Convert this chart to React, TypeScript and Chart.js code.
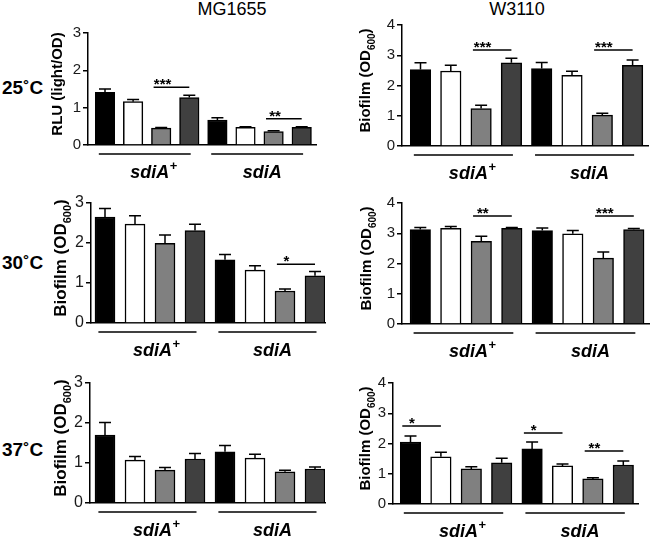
import React, { useEffect, useRef } from 'react';
import { Chart, registerables } from 'chart.js';

Chart.register(...registerables);

const FONT = "'Liberation Sans', Arial, Helvetica, sans-serif";

// ---------- labels ----------
const strains = ['MG1655', 'W3110'];
const temperatures = ['25˚C', '30˚C', '37˚C'];
const groupNames = ['sdiA', 'sdiA'];
const groupSups = ['+', ''];
const barColors = ['#000000', '#ffffff', '#808080', '#404040'];

type Sig = [number, number, number, string]; // from bar, to bar, y value, label

// ---------- data ----------
// MG1655, 25˚C (RLU)
const mg25Values = [1.41, 1.16, 0.45, 1.27, 0.67, 0.47, 0.36, 0.47];
const mg25Errors = [0.09, 0.06, 0.02, 0.06, 0.06, 0.02, 0.02, 0.02];
const mg25Sig: Sig[] = [[2, 3, 1.55, '***'], [6, 7, 0.7, '**']];

// W3110, 25˚C
const w25Values = [2.53, 2.48, 1.24, 2.75, 2.56, 2.34, 1.02, 2.67];
const w25Errors = [0.22, 0.19, 0.11, 0.15, 0.2, 0.13, 0.06, 0.17];
const w25Sig: Sig[] = [[2, 3, 3.17, '***'], [6, 7, 3.17, '***']];

// MG1655, 30˚C
const mg30Values = [2.65, 2.47, 1.99, 2.31, 1.58, 1.32, 0.8, 1.18];
const mg30Errors = [0.21, 0.21, 0.21, 0.16, 0.13, 0.11, 0.05, 0.11];
const mg30Sig: Sig[] = [[6, 7, 1.47, '*']];

// W3110, 30˚C
const w30Values = [3.12, 3.16, 2.73, 3.16, 3.09, 2.98, 2.18, 3.12];
const w30Errors = [0.07, 0.06, 0.17, 0.03, 0.08, 0.11, 0.2, 0.04];
const w30Sig: Sig[] = [[2, 3, 3.57, '**'], [6, 7, 3.57, '***']];

// MG1655, 37˚C
const mg37Values = [1.7, 1.07, 0.82, 1.1, 1.28, 1.12, 0.78, 0.85];
const mg37Errors = [0.31, 0.09, 0.07, 0.14, 0.16, 0.1, 0.04, 0.05];
const mg37Sig: Sig[] = [];

// W3110, 37˚C
const w37Values = [2.05, 1.56, 1.16, 1.36, 1.82, 1.26, 0.83, 1.29];
const w37Errors = [0.2, 0.15, 0.07, 0.15, 0.23, 0.06, 0.04, 0.13];
const w37Sig: Sig[] = [[0, 1, 2.58, '*'], [4, 5, 2.35, '*'], [6, 7, 1.75, '**']];

const rluTitle = [{ t: 'RLU (light/OD)', sub: false }];
const biofilmTitle = [
  { t: 'Biofilm (OD', sub: false },
  { t: '600', sub: true },
  { t: ')', sub: false },
];

// ---------- layout (page pixels) ----------
type Layout = {
  left: number; top: number; width: number; height: number;
  axisX: number; axisRight: number; yTopPx: number; y0Px: number;
  c0: number; step: number; bar: number; titleX: number; titleSize: number; tickSize: number;
};

const L_MG25: Layout = { left: 40, top: 10, width: 290, height: 172, axisX: 88, axisRight: 316, yTopPx: 33, y0Px: 145, c0: 105, step: 28.1, bar: 19.5, titleX: 57, titleSize: 15, tickSize: 15 };
const L_W25: Layout = { left: 340, top: 10, width: 310, height: 172, axisX: 402, axisRight: 648, yTopPx: 25, y0Px: 146, c0: 420.5, step: 30.3, bar: 20.5, titleX: 365, titleSize: 15, tickSize: 15 };
const L_MG30: Layout = { left: 40, top: 185, width: 290, height: 177, axisX: 91, axisRight: 325, yTopPx: 203, y0Px: 323, c0: 105, step: 30, bar: 20, titleX: 60, titleSize: 17, tickSize: 16 };
const L_W30: Layout = { left: 340, top: 185, width: 310, height: 177, axisX: 402, axisRight: 649, yTopPx: 203, y0Px: 324, c0: 420.3, step: 30.5, bar: 20.5, titleX: 366, titleSize: 15, tickSize: 15 };
const L_MG37: Layout = { left: 40, top: 364, width: 290, height: 175, axisX: 90, axisRight: 325, yTopPx: 383, y0Px: 503, c0: 105, step: 30, bar: 20, titleX: 60, titleSize: 17, tickSize: 16 };
const L_W37: Layout = { left: 340, top: 364, width: 310, height: 175, axisX: 393, axisRight: 638, yTopPx: 383, y0Px: 504, c0: 410.5, step: 30.4, bar: 20.5, titleX: 365, titleSize: 15, tickSize: 15 };

type Spec = {
  layout: Layout; values: number[]; errors: number[]; sig: Sig[];
  yMax: number; title: { t: string; sub: boolean }[];
};

const panels: Spec[] = [
  { layout: L_MG25, values: mg25Values, errors: mg25Errors, sig: mg25Sig, yMax: 3, title: rluTitle },
  { layout: L_W25, values: w25Values, errors: w25Errors, sig: w25Sig, yMax: 4, title: biofilmTitle },
  { layout: L_MG30, values: mg30Values, errors: mg30Errors, sig: mg30Sig, yMax: 3, title: biofilmTitle },
  { layout: L_W30, values: w30Values, errors: w30Errors, sig: w30Sig, yMax: 4, title: biofilmTitle },
  { layout: L_MG37, values: mg37Values, errors: mg37Errors, sig: mg37Sig, yMax: 3, title: biofilmTitle },
  { layout: L_W37, values: w37Values, errors: w37Errors, sig: w37Sig, yMax: 4, title: biofilmTitle },
];

function Panel({ spec }: { spec: Spec }) {
  const ref = useRef<HTMLCanvasElement>(null);
  const L = spec.layout;

  useEffect(() => {
    if (!ref.current) return;
    const yw = 30;
    const xmin = (L.axisX - L.c0) / L.step;
    const xmax = (L.axisRight - L.c0) / L.step;

    const decor = {
      id: 'panelDecor',
      afterDatasetsDraw(chart: any) {
        const { ctx } = chart;
        const xs = chart.scales.x;
        const ys = chart.scales.y;
        ctx.save();
        ctx.strokeStyle = '#000';
        ctx.lineWidth = 1.5;
        spec.values.forEach((v, i) => {
          const px = xs.getPixelForValue(i);
          const y1 = ys.getPixelForValue(v);
          const y2 = ys.getPixelForValue(v + spec.errors[i]);
          ctx.beginPath();
          ctx.moveTo(px, y1);
          ctx.lineTo(px, y2);
          ctx.moveTo(px - 6, y2);
          ctx.lineTo(px + 6, y2);
          ctx.stroke();
        });
        ctx.restore();
      },
      afterDraw(chart: any) {
        const { ctx, chartArea } = chart;
        const xs = chart.scales.x;
        const ys = chart.scales.y;
        ctx.save();
        ctx.fillStyle = '#000';
        ctx.strokeStyle = '#000';

        // y-axis title (rotated, with subscript)
        const size = L.titleSize;
        const subSize = Math.round(size * 0.65);
        let total = 0;
        spec.title.forEach((p) => {
          ctx.font = `bold ${p.sub ? subSize : size}px ${FONT}`;
          total += ctx.measureText(p.t).width;
        });
        const cx = L.titleX - L.left;
        const cy = (chartArea.top + chartArea.bottom) / 2 - 5;
        ctx.translate(cx, cy);
        ctx.rotate(-Math.PI / 2);
        ctx.textBaseline = 'alphabetic';
        ctx.textAlign = 'left';
        let tx = -total / 2;
        const base = size * 0.36;
        spec.title.forEach((p) => {
          ctx.font = `bold ${p.sub ? subSize : size}px ${FONT}`;
          ctx.fillText(p.t, tx, p.sub ? base + size * 0.28 : base);
          tx += ctx.measureText(p.t).width;
        });
        ctx.setTransform(1, 0, 0, 1, 0, 0);

        // group underlines and labels
        const lineY = ys.getPixelForValue(0) + 9;
        ctx.lineWidth = 1.5;
        groupNames.forEach((name, g) => {
          const xa = xs.getPixelForValue(g * 4 - 0.22);
          const xb = xs.getPixelForValue(g * 4 + 3 + 0.05);
          ctx.beginPath();
          ctx.moveTo(xa, lineY);
          ctx.lineTo(xb, lineY);
          ctx.stroke();
          ctx.font = `italic bold 18px ${FONT}`;
          ctx.textAlign = 'center';
          const mid = (xa + xb) / 2 + 5;
          const w = ctx.measureText(name).width;
          ctx.fillText(name, mid, lineY + 24);
          if (groupSups[g]) {
            ctx.font = `bold 13px ${FONT}`;
            ctx.textAlign = 'left';
            ctx.fillText(groupSups[g], mid + w / 2 + 0.5, lineY + 16);
          }
        });

        // significance markers
        ctx.textAlign = 'center';
        ctx.font = `bold 15px ${FONT}`;
        spec.sig.forEach(([a, b, yv, label]) => {
          const py = ys.getPixelForValue(yv);
          const xa = xs.getPixelForValue(a - 0.27);
          const xb = xs.getPixelForValue(b);
          ctx.beginPath();
          ctx.moveTo(xa, py);
          ctx.lineTo(xb, py);
          ctx.stroke();
          ctx.fillText(label, xs.getPixelForValue(a + 0.05), py + 2);
        });
        ctx.restore();
      },
    };

    const chart = new Chart(ref.current, {
      type: 'bar',
      data: {
        datasets: [
          {
            data: spec.values.map((v, i) => ({ x: i, y: v })),
            backgroundColor: spec.values.map((_, i) => barColors[i % 4]),
            borderColor: '#000',
            borderWidth: 1.5,
            barThickness: L.bar,
          } as any,
        ],
      },
      options: {
        responsive: false,
        animation: false,
        events: [],
        layout: {
          padding: {
            left: L.axisX - L.left - yw,
            right: L.left + L.width - L.axisRight,
            top: L.yTopPx - L.top,
            bottom: L.top + L.height - L.y0Px,
          },
        },
        plugins: { legend: { display: false }, tooltip: { enabled: false } },
        scales: {
          x: {
            type: 'linear',
            min: xmin,
            max: xmax,
            offset: false,
            ticks: { display: false },
            grid: { display: false, drawTicks: false, offset: false },
            border: { display: true, color: '#000', width: 1.5 },
            afterFit: (s: any) => { s.height = 0; },
          },
          y: {
            type: 'linear',
            min: 0,
            max: spec.yMax,
            ticks: { stepSize: 1, color: '#1a1a1a', padding: 2, font: { family: FONT, size: L.tickSize } },
            grid: { display: true, drawOnChartArea: false, drawTicks: true, tickLength: 5, color: '#000', lineWidth: 1.5 },
            border: { display: true, color: '#000', width: 1.5 },
            afterFit: (s: any) => { s.width = yw; },
          },
        },
      } as any,
      plugins: [decor],
    });
    return () => chart.destroy();
  }, []);

  return (
    <canvas
      ref={ref}
      width={L.width}
      height={L.height}
      style={{ position: 'absolute', left: L.left, top: L.top, width: L.width, height: L.height }}
    />
  );
}

const strainCenters = [232, 517];
const tempCenters = [88, 263, 450];

export default function App() {
  return (
    <div style={{ position: 'absolute', left: 0, top: 0, width: 650, height: 539, background: '#fff', overflow: 'hidden', fontFamily: FONT, color: '#000' }}>
      {strains.map((s, i) => (
        <div key={s} style={{ position: 'absolute', left: strainCenters[i] - 60, top: -1, width: 120, textAlign: 'center', fontSize: 18, lineHeight: '20px' }}>
          {s}
        </div>
      ))}
      {temperatures.map((t, i) => (
        <div key={t} style={{ position: 'absolute', left: 2, top: tempCenters[i] - 10, fontSize: 19, lineHeight: '20px', fontWeight: 'bold', whiteSpace: 'nowrap' }}>
          {t}
        </div>
      ))}
      {panels.map((p, i) => (
        <Panel key={i} spec={p} />
      ))}
    </div>
  );
}
